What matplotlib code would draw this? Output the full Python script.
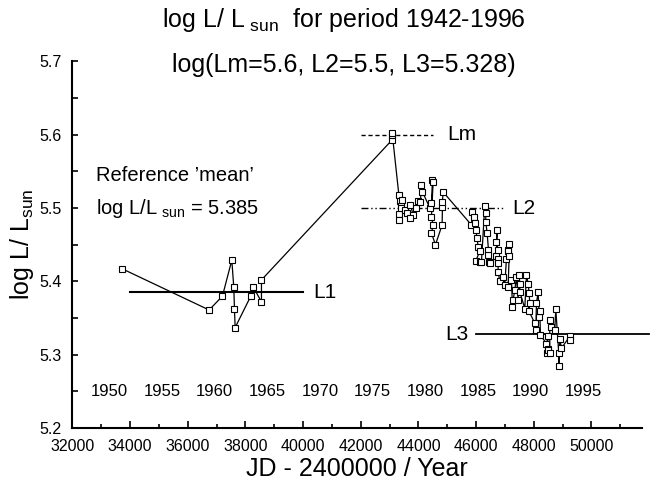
import matplotlib
matplotlib.use("Agg")
from matplotlib import pyplot as plt
from matplotlib.ticker import MultipleLocator

plt.rcParams["font.family"] = ["Liberation Sans", "DejaVu Sans"]
plt.rcParams["mathtext.default"] = "regular"

# observations: JD - 2400000 and log L/Lsun, in drawing order
jd = [33734, 36740, 37202, 37526, 37595, 37618, 37642, 38185, 38277, 38555, 38555,
      43086, 43086, 43090,
      43321, 43353, 43400, 43330, 43340, 43380, 43445, 43526, 43600, 43723, 43815,
      43723, 43900, 44000, 44070, 44104, 44139, 44400, 44451, 44486, 44509, 44451,
      44509, 44451, 44590, 44821, 44833, 44833, 44856,
      45839, 45874, 45920, 45955, 45989, 46035, 46070, 46128, 45989, 46151, 46186,
      46301, 46336, 46336, 46383, 46429, 46440, 46417, 46475, 46706, 46729, 46706,
      46764, 46764, 46764, 46764, 46822, 46937, 46995, 47053, 47111, 47146, 47111,
      47146, 47111, 47227, 47261, 47284, 47342, 47400, 47458, 47492, 47516, 47516,
      47689, 47747, 47805, 47839, 47863, 47839, 48036, 48071, 48094, 48152, 48186,
      48209, 48232, 48441, 48498, 48460, 48480, 48498, 48556, 48556, 48614, 48729,
      48764, 48868, 48868, 48903, 48961, 49250, 49273]
logl = [5.417, 5.361, 5.380, 5.429, 5.392, 5.363, 5.337, 5.380, 5.392, 5.372, 5.402,
        5.593, 5.600, 5.602,
        5.518, 5.510, 5.503, 5.492, 5.484, 5.500, 5.511, 5.498, 5.494, 5.504, 5.491,
        5.486, 5.500, 5.510, 5.509, 5.532, 5.522, 5.500, 5.507, 5.538, 5.535, 5.488,
        5.477, 5.466, 5.450, 5.477, 5.502, 5.509, 5.522,
        5.477, 5.495, 5.488, 5.479, 5.470, 5.459, 5.447, 5.441, 5.428, 5.426, 5.427,
        5.503, 5.493, 5.481, 5.466, 5.443, 5.427, 5.436, 5.425, 5.434, 5.470, 5.454,
        5.443, 5.431, 5.425, 5.413, 5.400, 5.406, 5.395, 5.431, 5.443, 5.451, 5.441,
        5.434, 5.393, 5.402, 5.365, 5.375, 5.388, 5.406, 5.375, 5.409, 5.397, 5.386,
        5.363, 5.409, 5.397, 5.384, 5.370, 5.359, 5.343, 5.334, 5.370, 5.386, 5.352,
        5.359, 5.327, 5.315, 5.325, 5.303, 5.308, 5.306, 5.302, 5.347, 5.338, 5.334,
        5.362, 5.302, 5.284, 5.322, 5.309, 5.325, 5.320]

# reference levels
l1, l1_span = 5.385, (34000, 40000)
lm, lm_span = 5.6, (42000, 44500)
l2, l2_span = 5.5, (42000, 47000)
l3, l3_span = 5.328, (46000, 52000)

years = [1950, 1955, 1960, 1965, 1970, 1975, 1980, 1985, 1990, 1995]


def year_to_jd(y):
    return 33282.5 + (y - 1950) * 365.25


fig = plt.figure(figsize=(6.59, 4.90), dpi=100)
ax = fig.add_axes([0.110, 0.1265, 0.864, 0.748])

ax.plot(jd, logl, color="black", lw=0.9, marker="s", markersize=4.4,
        markerfacecolor="white", markeredgecolor="black", markeredgewidth=0.8,
        zorder=3)

ax.plot(l1_span, [l1, l1], color="black", lw=1.5)
ax.plot(lm_span, [lm, lm], color="black", lw=1.0, dashes=(3, 2))
ax.plot(l2_span, [l2, l2], color="black", lw=1.0, dashes=(5, 2, 1, 2, 1, 2))
ax.plot(l3_span, [l3, l3], color="black", lw=1.3, clip_on=False)

ax.text(40350, l1, "L1", fontsize=15, va="center", ha="left")
ax.text(45000, lm, "Lm", fontsize=15, va="center", ha="left")
ax.text(47250, l2, "L2", fontsize=15, va="center", ha="left")
ax.text(45750, l3, "L3", fontsize=15, va="center", ha="right")

ax.text(32800, 5.544, "Reference \u2019mean\u2019", fontsize=14.5, va="center")
ax.text(32800, 5.500, "log L/L$_{\\ sun}$ = 5.385", fontsize=14.5, va="center")

for y in years:
    ax.text(year_to_jd(y), 5.25, str(y), fontsize=12, ha="center", va="center")

ax.set_xlim(32000, 51750)
ax.set_ylim(5.2, 5.7)
ax.xaxis.set_major_locator(MultipleLocator(2000))
ax.xaxis.set_minor_locator(MultipleLocator(1000))
ax.yaxis.set_major_locator(MultipleLocator(0.1))
ax.yaxis.set_minor_locator(MultipleLocator(0.05))
ax.yaxis.set_major_formatter(lambda v, p: "%.1f" % v)
ax.tick_params(which="both", direction="in", width=1.2, labelsize=11.5)
ax.tick_params(axis="x", which="major", length=5, pad=8)
ax.tick_params(axis="x", which="minor", length=3)
ax.tick_params(axis="y", which="both", length=4, pad=8)

for s in ["top", "right"]:
    ax.spines[s].set_visible(False)
for s in ["left", "bottom"]:
    ax.spines[s].set_linewidth(1.5)

ax.set_xlabel("JD - 2400000 / Year", fontsize=18, labelpad=2)
ax.set_ylabel("log L/ L$_{sun}$", fontsize=18, labelpad=2)

fig.text(0.522, 0.959, "log L/ L$_{\\ sun}$  for period 1942-1996", fontsize=18,
         ha="center", va="center")
fig.text(0.522, 0.867, "log(Lm=5.6, L2=5.5, L3=5.328)", fontsize=18,
         ha="center", va="center")

fig.savefig("out.png", dpi=100)
